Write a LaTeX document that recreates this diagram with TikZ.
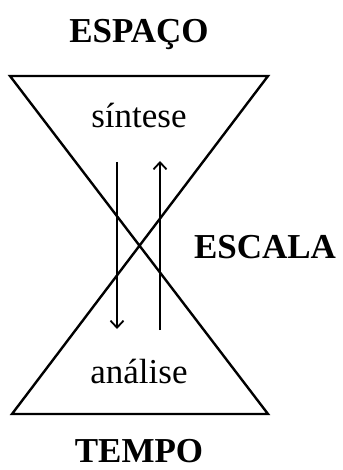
\documentclass[tikz,border=0pt]{standalone}
\usepackage{fontspec}
\setmainfont{Liberation Serif}
\usetikzlibrary{arrows.meta}
\begin{document}
\begin{tikzpicture}[x=1bp,y=-1bp,
  edge/.style={line width=2.4bp,line cap=round,line join=miter},
  flow/.style={line width=2bp,-{Straight Barb[length=7bp,width=13bp,line width=1.8bp]}},
  title/.style={font=\fontsize{35bp}{40bp}\selectfont\bfseries,anchor=base,inner sep=0},
  lbl/.style={font=\fontsize{35bp}{40bp}\selectfont,anchor=base,inner sep=0}]
\useasboundingbox (0,0) rectangle (342,470);
\coordinate (tl) at (10,76);
\coordinate (tr) at (268,76);
\coordinate (bl) at (12,414);
\coordinate (br) at (268,414);
\draw[edge] (tl) -- (tr) -- (bl) -- (br) -- cycle;
\node[title] (espaco) at (139,43) {ESPAÇO};
\node[title] (escala) at (265,258) {ESCALA};
\node[title] (tempo) at (139,462) {TEMPO};
\node[lbl] (sintese) at (139,128) {síntese};
\node[lbl] (analise) at (139,383) {análise};
\coordinate (a1s) at (117,162);
\coordinate (a1e) at (117,329);
\coordinate (a2s) at (160,330);
\coordinate (a2e) at (160,161);
\draw[flow] (a1s) -- (a1e);
\draw[flow] (a2s) -- (a2e);
\end{tikzpicture}
\end{document}
